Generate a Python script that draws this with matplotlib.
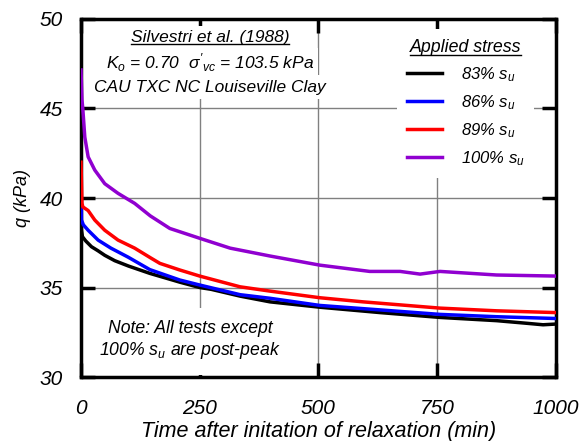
import matplotlib
matplotlib.use("Agg")
import matplotlib.pyplot as plt
from matplotlib.lines import Line2D

plt.rcParams["font.family"] = ["Liberation Sans", "DejaVu Sans"]
plt.rcParams["font.style"] = "italic"
plt.rcParams["mathtext.fontset"] = "custom"
plt.rcParams["mathtext.it"] = "Liberation Sans:italic"
plt.rcParams["mathtext.rm"] = "Liberation Sans:italic"

# values (time in min, q in kPa)
t_83 = [0, 1, 3, 10, 22, 36, 50, 71, 100, 145, 208, 250, 274, 335, 398, 503,
        630, 756, 875, 940, 973, 1000]
q_83 = [39.2, 38.2, 37.84, 37.6, 37.28, 37.05, 36.8, 36.5, 36.2, 35.79, 35.3,
        35.0, 34.9, 34.52, 34.2, 33.9, 33.6, 33.33, 33.15, 33.0, 32.92, 32.96]

t_86 = [0, 1, 5, 15, 36, 63, 99, 145, 208, 250, 335, 398, 503, 630, 756, 875, 1000]
q_86 = [40.9, 38.77, 38.5, 38.2, 37.65, 37.2, 36.7, 36.0, 35.42, 35.14, 34.6,
        34.4, 34.0, 33.75, 33.5, 33.37, 33.27]

t_89 = [0, 2, 4, 15, 29, 50, 78, 113, 147, 166, 208, 250, 335, 398, 503, 594,
        756, 875, 1000]
q_89 = [42.0, 39.7, 39.5, 39.3, 38.77, 38.2, 37.65, 37.2, 36.65, 36.35, 35.98,
        35.64, 35.04, 34.8, 34.43, 34.2, 33.85, 33.7, 33.6]

t_100 = [0, 2, 4, 8, 15, 29, 50, 78, 113, 146, 187, 250, 314, 398, 503, 608,
         672, 714, 756, 875, 1000]
q_100 = [47.15, 45.5, 44.9, 43.4, 42.3, 41.56, 40.8, 40.26, 39.7, 39.0, 38.3,
         37.75, 37.2, 36.76, 36.25, 35.9, 35.9, 35.75, 35.9, 35.7, 35.64]

series = [
    (t_83, q_83, "black", r"83% $s_u$"),
    (t_86, q_86, "#0000ff", r"86% $s_u$"),
    (t_89, q_89, "#ff0000", r"89% $s_u$"),
    (t_100, q_100, "#9000d0", r"100% $s_u$"),
]

x_ticks = [0, 250, 500, 750, 1000]
y_ticks = [30, 35, 40, 45, 50]

fig = plt.figure(figsize=(5.87, 4.41), dpi=100)
ax = fig.add_axes([0.138, 0.145, 0.809, 0.812])

for t, q, c, lab in series:
    ax.plot(t, q, color=c, linewidth=2.5, label=lab, zorder=7)

ax.set_xlim(0, 1000)
ax.set_ylim(30, 50)
ax.set_xticks(x_ticks)
ax.set_yticks(y_ticks)
ax.grid(True, color="#808080", linewidth=1.0)
ax.set_axisbelow(True)
for s in ax.spines.values():
    s.set_linewidth(2.5)
    s.set_zorder(6)
ax.tick_params(direction="in", length=10, width=2.5, top=True, right=True,
               labelsize=15)
ax.tick_params(axis="x", pad=16)
ax.tick_params(axis="y", pad=13)
ax.set_xlabel("Time after initation of relaxation (min)", fontsize=15.5, labelpad=2)
ax.set_ylabel("q (kPa)", fontsize=13, labelpad=6)

box = dict(facecolor="white", edgecolor="none", pad=3)
t1 = ax.text(0.272, 0.947, "Silvestri et al. (1988)", transform=ax.transAxes,
             ha="center", va="center", fontsize=12.5, bbox=box, zorder=1)
ax.text(0.272, 0.877, r"$K_o$ = 0.70  $\sigma'_{vc}$ = 103.5 kPa", transform=ax.transAxes,
        ha="center", va="center", fontsize=12.5, bbox=box, zorder=1)
ax.text(0.272, 0.81, "CAU TXC NC Louiseville Clay", transform=ax.transAxes,
        ha="center", va="center", fontsize=12.5, bbox=box, zorder=1)
ax.text(0.23, 0.103, "Note: All tests except\n100% $s_u$ are post-peak", transform=ax.transAxes,
        ha="center", va="center", fontsize=12.7, linespacing=1.2,
        bbox=dict(facecolor="white", edgecolor="none", pad=10), zorder=1)

leg = ax.legend(loc="upper right", bbox_to_anchor=(0.972, 0.995), frameon=True,
                fancybox=False, edgecolor="none", framealpha=1, fontsize=12,
                title="Applied stress", title_fontsize=12.8, handlelength=2.1,
                handletextpad=1.1, labelspacing=0.55, borderpad=0.6)
leg.get_title().set_style("italic")
leg.set_zorder(4)

# underline the two headings
fig.canvas.draw()
r = fig.canvas.get_renderer()
for txt in [t1, leg.get_title()]:
    bb = txt.get_window_extent(r)
    x0, x1 = bb.x0 / fig.bbox.width, bb.x1 / fig.bbox.width
    y = (bb.y0 + 1) / fig.bbox.height
    fig.add_artist(Line2D([x0, x1], [y, y], color="black", linewidth=1.0, zorder=10))

fig.savefig("out.png", dpi=100)
